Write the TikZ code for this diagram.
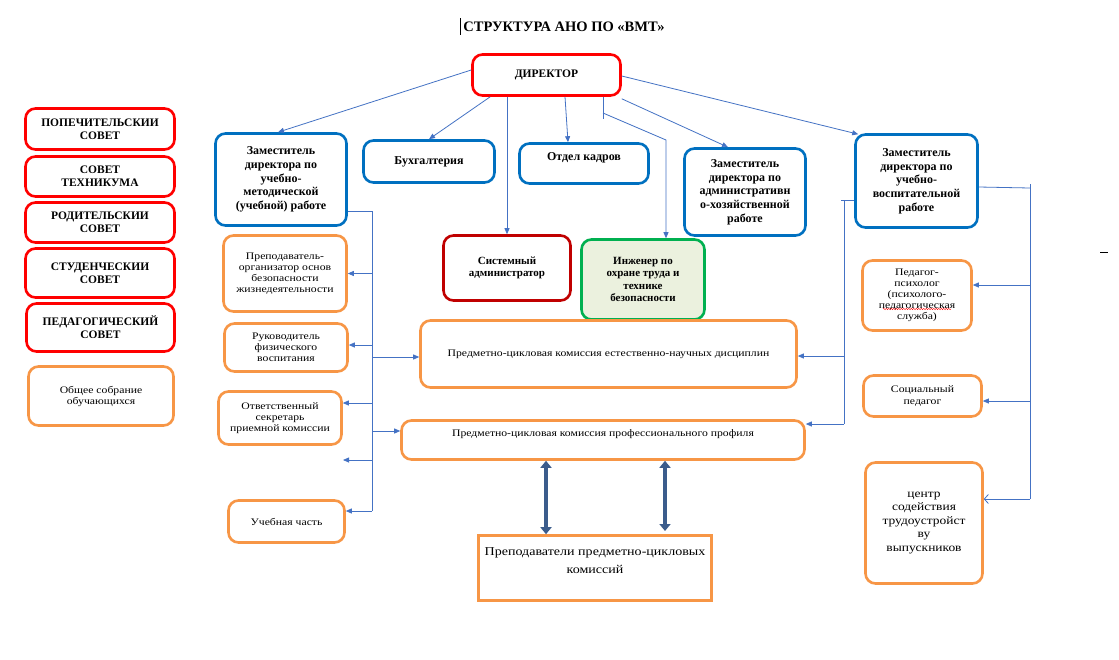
\documentclass[tikz,border=0pt]{standalone}
\usepackage{fontspec}
\setmainfont{Liberation Serif}
\newfontfamily\widefont[FakeStretch=1.17]{Liberation Serif}
\usetikzlibrary{arrows.meta,decorations.pathmorphing}
\definecolor{cred}{HTML}{FF0000}
\definecolor{cdred}{HTML}{C00000}
\definecolor{cblue}{HTML}{0070C0}
\definecolor{corange}{HTML}{F79646}
\definecolor{cgreen}{HTML}{00B050}
\definecolor{cgfill}{HTML}{EBF1DE}
\definecolor{cline}{HTML}{4472C4}
\definecolor{cthick}{HTML}{3B5C8C}
\begin{document}
\begin{tikzpicture}[x=1pt,y=-1pt,
  box/.style={draw, line width=2.6pt, rounded corners=10pt, align=center, inner sep=1pt, fill=white},
  redbox/.style={box, draw=cred, font=\fontsize{11.5}{13}\selectfont\bfseries},
  bluebox/.style={box, draw=cblue, font=\fontsize{12}{13.7}\selectfont\bfseries},
  orbox/.style={box, draw=corange, font=\widefont\fontsize{10}{11}\selectfont},
  ln/.style={draw=cline, line width=0.8pt},
  arr/.style={ln, -{Triangle[length=6pt,width=5pt]}},
  oarr/.style={ln, -{Straight Barb[length=4pt,width=9pt]}},
  thick2/.style={draw=cthick, line width=4.5pt, {Triangle[length=7pt,width=11pt]}-{Triangle[length=7pt,width=11pt]}}
]
\useasboundingbox (0,0) rectangle (1119,659);
\fill[white] (0,0) rectangle (1119,659);

% title and small marks
\node[font=\fontsize{14.5}{16}\selectfont\bfseries] (title) at (564,27) {СТРУКТУРА АНО ПО «ВМТ»};
\draw[black, line width=0.8pt] (460,18) -- (460,35);
\draw[black, line width=0.8pt] (1100,252) -- (1108,252);

% left column
\node[redbox, minimum width=149pt, minimum height=41pt] (pop) at (100,129) {ПОПЕЧИТЕЛЬСКИИ\\СОВЕТ};
\node[redbox, minimum width=149pt, minimum height=40pt] (sovt) at (100,176.5) {СОВЕТ\\ТЕХНИКУМА};
\node[redbox, minimum width=149pt, minimum height=40pt] (rod) at (100,222.5) {РОДИТЕЛЬСКИИ\\СОВЕТ};
\node[redbox, minimum width=149pt, minimum height=49pt] (stud) at (100,273) {СТУДЕНЧЕСКИИ\\СОВЕТ};
\node[redbox, minimum width=148pt, minimum height=48pt] (ped) at (100.5,327.5) {ПЕДАГОГИЧЕСКИЙ\\СОВЕТ};
\node[orbox, minimum width=145pt, minimum height=59pt] (obsh) at (101,396) {Общее собрание\\обучающихся};

% director
\node[redbox, minimum width=148pt, minimum height=41pt] (dir) at (546.5,75) {ДИРЕКТОР};

% second row
\node[bluebox, minimum width=131pt, minimum height=92pt] (zum) at (281,179.5) {Заместитель\\директора по\\учебно-\\методической\\(учебной) работе};
\node[bluebox, minimum width=131pt, minimum height=42pt] (buh) at (429,161.5) {Бухгалтерия};
\node[bluebox, minimum width=129pt, minimum height=40pt] (kadr) at (584,163.5) {\raisebox{6pt}[\height][\depth]{Отдел кадров}};
\node[bluebox, minimum width=121pt, minimum height=87pt] (zah) at (745,192) {Заместитель\\директора по\\административн\\о-хозяйственной\\работе};
\node[bluebox, minimum width=122pt, minimum height=93pt] (zuvr) at (916.5,181) {Заместитель\\директора по\\учебно-\\воспитательной\\работе};

% center
\node[box, draw=cdred, font=\fontsize{11}{12.5}\selectfont\bfseries, minimum width=127pt, minimum height=65pt] (sys) at (507,268) {Системный\\администратор};
\node[box, draw=cgreen, fill=cgfill, font=\fontsize{11}{12.5}\selectfont\bfseries, minimum width=123pt, minimum height=80pt] (ing) at (643,279.5) {Инженер по\\охране труда и\\технике\\безопасности};
\node[orbox, minimum width=376pt, minimum height=67pt] (pcken) at (608.5,354) {Предметно-цикловая комиссия естественно-научных дисциплин};
\node[orbox, minimum width=403pt, minimum height=39pt] (pckpp) at (603,440) {\raisebox{6pt}[\height][\depth]{Предметно-цикловая комиссия профессионального профиля}};
\node[draw=corange, line width=2.6pt, minimum width=233pt, minimum height=65pt, font=\widefont\fontsize{12}{18}\selectfont, inner sep=1pt] (prep) at (595,568) {\raisebox{7pt}[\height][\depth]{\begin{tabular}{@{}c@{}}Преподаватели предметно-цикловых\\комиссий\end{tabular}}};

% left orange column
\node[orbox, minimum width=123pt, minimum height=76pt] (obzh) at (285,273.5) {Преподаватель-\\организатор основ\\безопасности\\жизнедеятельности};
\node[orbox, minimum width=123pt, minimum height=48pt] (fiz) at (286,347.5) {Руководитель\\физического\\воспитания};
\node[orbox, minimum width=123pt, minimum height=53pt] (otv) at (280,418) {Ответственный\\секретарь\\приемной комиссии};
\node[orbox, minimum width=116pt, minimum height=42pt] (uch) at (286.5,521.5) {Учебная часть};

% right orange column
\node[orbox, minimum width=109pt, minimum height=70pt] (psih) at (917,295.5) {Педагог-\\психолог\\(психолого-\\педагогическая\\служба)};
\node[orbox, font=\widefont\fontsize{10}{11.5}\selectfont, minimum width=118pt, minimum height=41pt] (soc) at (922.5,396) {Социальный\\педагог};
\node[orbox, font=\widefont\fontsize{11.5}{13.5}\selectfont, minimum width=117pt, minimum height=121pt] (centr) at (924,523) {центр\\содействия\\трудоустройст\\ву\\выпускников};
\draw[cred, line width=0.4pt, decorate, decoration={snake, amplitude=0.7pt, segment length=2.5pt}] (883,309) -- (951,309);

% director connectors
\draw[arr] ([yshift=5pt]dir.west) -- ([xshift=-3pt]zum.north);
\draw[arr] ([xshift=19pt]dir.south west) -- (buh.north);
\draw[arr] (sys.north |- dir.south) -- (sys.north);
\draw[arr] ([xshift=18.5pt]dir.south) -- ([xshift=-16pt]kadr.north);
\draw[ln] ([xshift=56.5pt]dir.south) -- ++(0,22);
\coordinate (ingk) at (603,113);
\coordinate (ingb) at (666,140);
\draw[arr] (ingk) -- (ingb) -- (ingb |- ing.north);
\draw[arr] ([yshift=-2pt]dir.south east) -- ([xshift=-17pt]zah.north);
\draw[arr] ([yshift=-1pt]dir.east) -- ([xshift=4pt,yshift=-1pt]zuvr.north west);

% left bus
\coordinate (lbt) at (372,211);
\coordinate (lbb) at (372,511);
\draw[ln] (lbt -| zum.east) -- (lbt) -- (lbb);
\draw[arr] (lbt |- obzh.east) -- (obzh.east);
\draw[arr] ([yshift=2.5pt]lbt |- fiz.east) -- ([yshift=2.5pt]fiz.east);
\draw[arr] ([yshift=15pt]lbt |- otv.east) -- ([yshift=15pt]otv.east);
\coordinate (ea) at (343,460);
\draw[arr] (lbt |- ea) -- (ea);
\draw[arr] (lbb) -- (lbb -| uch.east);
\draw[arr] ([yshift=-3pt]lbt |- pcken.west) -- ([yshift=-3pt]pcken.west);
\draw[arr] ([yshift=9pt]lbt |- pckpp.west) -- ([yshift=9pt]pckpp.west);

% middle right bus
\coordinate (mbt) at (844,200);
\coordinate (mbb) at (844,424);
\draw[ln] (mbt -| zuvr.west) -- ([xshift=-3pt]mbt);
\draw[ln] (mbt) -- (mbb);
\draw[arr] ([yshift=-2pt]mbt |- pcken.east) -- ([yshift=-2pt]pcken.east);
\draw[arr] (mbb) -- (mbb -| pckpp.east);

% far right bus
\coordinate (rbt) at (1030,188);
\coordinate (rbb) at (1030,499);
\draw[ln] ([yshift=-6pt]zuvr.east) -- (rbt);
\draw[ln] ([yshift=4pt]rbt) -- (rbb);
\draw[arr] ([yshift=10.5pt]rbt |- psih.east) -- ([yshift=10.5pt]psih.east);
\draw[arr] ([yshift=-5pt]rbt |- soc.east) -- ([yshift=-5pt]soc.east);
\draw[oarr] (rbb) -- (rbb -| centr.east);

% thick double arrows
\draw[thick2] ([xshift=-57pt]pckpp.south) -- ([xshift=-57pt]pckpp.south |- prep.north);
\coordinate (t2b) at (665,531);
\draw[thick2] (pckpp.south -| t2b) -- (t2b);
\end{tikzpicture}
\end{document}
